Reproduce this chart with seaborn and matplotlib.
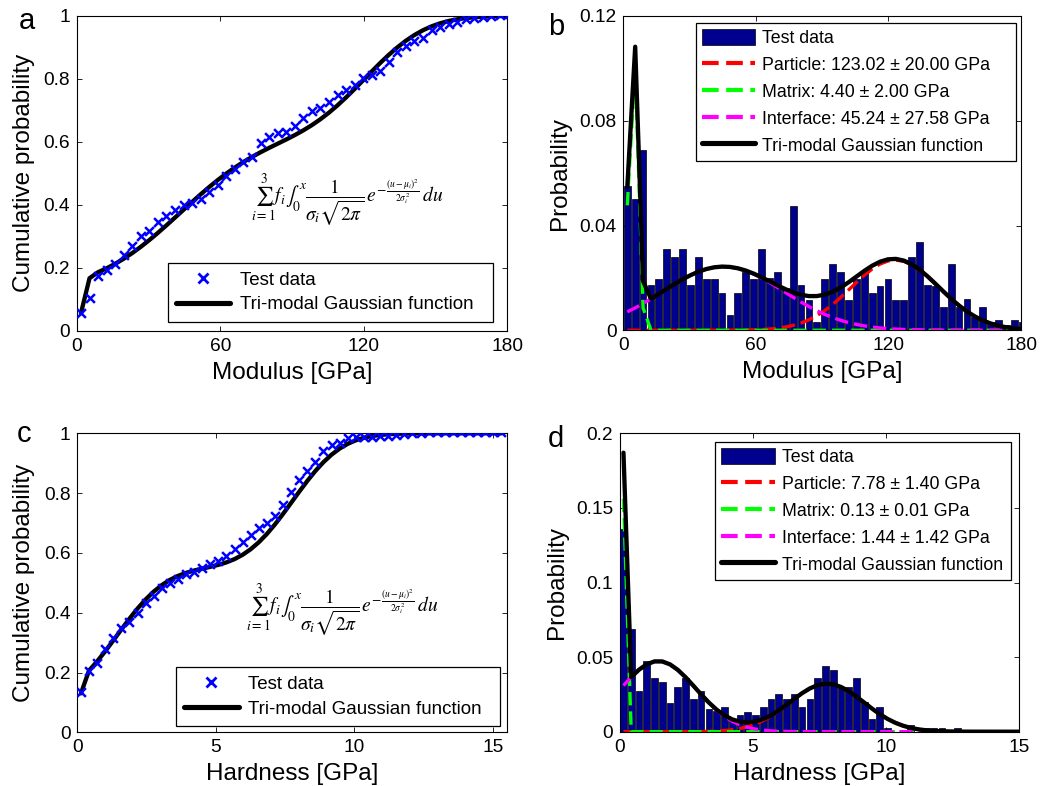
import math
import numpy as np
import pandas as pd
import matplotlib
matplotlib.use("Agg")
import matplotlib.pyplot as plt
from matplotlib.ticker import FuncFormatter
from matplotlib.patches import Patch
from matplotlib.lines import Line2D
import seaborn as sns

# ---- Nanoindentation statistics -------------------------------------------
# Modulus histogram (probability per bin, GPa)
modulus_bin_start = 0.0
modulus_bin_width = 3.575
modulus_prob = [0.055, 0.050, 0.069, 0.0173, 0.0195, 0.0309, 0.0279, 0.0309,
                0.0173, 0.0279, 0.0195, 0.0195, 0.0144, 0.0060, 0.0144, 0.0223,
                0.0195, 0.0309, 0.0200, 0.0223, 0.0160, 0.0474, 0.0172, 0.0116,
                0.0030, 0.0196, 0.0252, 0.0224, 0.0116, 0.0195, 0.0224, 0.0144,
                0.0170, 0.0196, 0.0116, 0.0116, 0.0280, 0.0337, 0.0172, 0.0170,
                0.0089, 0.0252, 0.0089, 0.0120, 0.0050, 0.0090, 0.0030, 0.0040,
                0.0020, 0.0040, 0.0030]

# Hardness histogram (probability per bin, GPa)
hardness_bin_start = -0.016
hardness_bin_width = 0.292
hardness_prob = [0.136, 0.0686, 0.0275, 0.0474, 0.0358, 0.0331, 0.0194, 0.0301,
                 0.0358, 0.0219, 0.0275, 0.0150, 0.0140, 0.0168, 0.0083, 0.0112,
                 0.0134, 0.0112, 0.0168, 0.0219, 0.0253, 0.0219, 0.0253, 0.0168,
                 0.0219, 0.0358, 0.0440, 0.0413, 0.0300, 0.0298, 0.0358, 0.0200,
                 0.0085, 0.0168, 0.0027, 0.0, 0.0, 0.0045, 0.0, 0.0027, 0.0027,
                 0.0027, 0.0, 0.0027, 0.0, 0.0, 0.0, 0.0, 0.0, 0.0, 0.0, 0.0, 0.0]

# Tri-modal Gaussian fits: particle, matrix, interface
phase_names = ["Particle", "Matrix", "Interface"]
modulus_mean = [123.02, 4.40, 45.24]
modulus_std = [20.00, 2.00, 27.58]
modulus_frac = [0.376, 0.157, 0.470]
hardness_mean = [7.78, 0.13, 1.44]
hardness_std = [1.40, 0.01, 1.42]
hardness_frac = [0.387, 0.0134, 0.577]
# volume fractions of the cumulative (CDF) fit of hardness
hardness_cdf_frac = [0.45, 0.10, 0.45]

phase_colors = ["#ff0000", "#00ff00", "#ff00ff"]
bar_color = "#00008f"
marker_color = "#0000ff"


def bin_centers(start, width, n):
    return start + width * (np.arange(n) + 0.5)


def phase_pdf(x, mu, sd, frac, width):
    # probability mass per histogram bin of one Gaussian phase
    return frac * width * np.exp(-0.5 * ((x - mu) / sd) ** 2) / (sd * np.sqrt(2 * np.pi))


_erf = np.vectorize(math.erf)


def phase_cdf(x, mu, sd, frac):
    return frac * 0.5 * (1.0 + _erf((x - mu) / (sd * np.sqrt(2.0))))


mod_x = bin_centers(modulus_bin_start, modulus_bin_width, len(modulus_prob))
hard_x = bin_centers(hardness_bin_start, hardness_bin_width, len(hardness_prob))

mod_phase_pdf = [phase_pdf(mod_x, m, s, f, modulus_bin_width)
                 for m, s, f in zip(modulus_mean, modulus_std, modulus_frac)]
mod_total_pdf = np.sum(mod_phase_pdf, axis=0)
hard_phase_pdf = [phase_pdf(hard_x, m, s, f, hardness_bin_width)
                  for m, s, f in zip(hardness_mean, hardness_std, hardness_frac)]
hard_total_pdf = np.sum(hard_phase_pdf, axis=0)

mod_cum_data = np.cumsum(modulus_prob)
mod_cum_fit = np.cumsum(mod_total_pdf) / mod_total_pdf.sum()
hard_cum_data = np.cumsum(hardness_prob)
hard_cum_fit = np.sum([phase_cdf(hard_x, m, s, f)
                       for m, s, f in zip(hardness_mean, hardness_std, hardness_cdf_frac)],
                      axis=0)

# ---- Styling ----------------------------------------------------------------
sns.set_style("ticks")
plt.rcParams.update({
    "font.family": ["Liberation Sans", "DejaVu Sans"],
    "mathtext.fontset": "stix",
    "axes.linewidth": 0.8,
    "axes.edgecolor": "black",
    "xtick.direction": "in",
    "ytick.direction": "in",
    "xtick.top": True,
    "ytick.right": True,
    "xtick.major.size": 3.5,
    "ytick.major.size": 3.5,
    "xtick.major.width": 0.6,
    "ytick.major.width": 0.6,
    "xtick.labelsize": 13.8,
    "ytick.labelsize": 13.8,
    "xtick.major.pad": 5,
    "ytick.major.pad": 5,
    "axes.labelsize": 17.5,
    "text.color": "black",
    "axes.labelcolor": "black",
    "xtick.color": "black",
    "ytick.color": "black",
})

fig = plt.figure(figsize=(10.45, 7.86), dpi=100)
ax_a = fig.add_axes([0.0734, 0.5793, 0.4120, 0.4004])
ax_b = fig.add_axes([0.5965, 0.5798, 0.3806, 0.3999])
ax_c = fig.add_axes([0.0740, 0.0683, 0.4115, 0.3804])
ax_d = fig.add_axes([0.5933, 0.0691, 0.3818, 0.3796])

fmt = FuncFormatter(lambda v, p: f"{v:g}")
dash = (0, (4.0, 1.8))
fit_lw = 3.1
comp_lw = 2.4
formula = (r"$\sum_{i=1}^{3} f_i \int_0^x \dfrac{1}{\sigma_i\sqrt{2\pi}}\,"
           r"e^{-\frac{(u-\mu_i)^2}{2\sigma_i^2}}\,du$")


def cumulative_panel(ax, x, cum_data, cum_fit, xlim, xticks, xlabel, fx, fy, leg_box):
    sns.lineplot(x=x, y=cum_fit, color="black", linewidth=fit_lw, sort=False,
                 estimator=None, ax=ax, zorder=2)
    sns.scatterplot(x=x, y=cum_data, marker="x", color=marker_color, s=40,
                    linewidth=1.8, ax=ax, zorder=3)
    ax.set_xlim(*xlim)
    ax.set_ylim(0, 1)
    ax.set_xticks(xticks)
    ax.set_yticks([0, 0.2, 0.4, 0.6, 0.8, 1.0])
    ax.xaxis.set_major_formatter(fmt)
    ax.yaxis.set_major_formatter(fmt)
    ax.set_xlabel(xlabel, labelpad=5)
    ax.set_ylabel("Cumulative probability", labelpad=6)
    ax.text(fx, fy, formula, fontsize=14, ha="center", va="center")
    handles = [Line2D([], [], marker="x", color=marker_color, linestyle="none",
                      markersize=7, markeredgewidth=2.0),
               Line2D([], [], color="black", linewidth=fit_lw + 0.6)]
    leg = ax.legend(handles, ["Test data", "Tri-modal Gaussian function"],
                    loc="lower left", bbox_to_anchor=leg_box, mode="expand",
                    borderaxespad=0, fontsize=13.5, frameon=True, fancybox=False,
                    framealpha=1, edgecolor="black", handlelength=2.9,
                    handletextpad=0.5, labelspacing=0.4, borderpad=0.45)
    leg.get_frame().set_linewidth(0.9)
    for s in ax.spines.values():
        s.set_visible(True)


def histogram_panel(ax, x, prob, start, width, phase_pdfs, total_pdf, means, stds,
                    xlim, xticks, ylim, yticks, xlabel, leg_box):
    df = pd.DataFrame({"value": x, "prob": prob})
    sns.histplot(data=df, x="value", weights="prob", binwidth=width,
                 binrange=(start, start + width * len(prob)), stat="count",
                 shrink=0.86, color=bar_color, edgecolor="black", linewidth=0.5,
                 alpha=1, ax=ax, zorder=1)
    for pdf, col in zip(phase_pdfs, phase_colors):
        sns.lineplot(x=x, y=pdf, color=col, linewidth=comp_lw, linestyle=dash,
                     sort=False, estimator=None, ax=ax, zorder=2)
    sns.lineplot(x=x, y=total_pdf, color="black", linewidth=fit_lw, sort=False,
                 estimator=None, ax=ax, zorder=3)
    ax.set_xlim(*xlim)
    ax.set_ylim(*ylim)
    ax.set_xticks(xticks)
    ax.set_yticks(yticks)
    ax.xaxis.set_major_formatter(fmt)
    ax.yaxis.set_major_formatter(fmt)
    ax.set_xlabel(xlabel, labelpad=5)
    ax.set_ylabel("Probability", labelpad=6)
    handles = [Patch(facecolor=bar_color, edgecolor="black", linewidth=0.5)]
    labels = ["Test data"]
    for name, col, m, s in zip(phase_names, phase_colors, means, stds):
        handles.append(Line2D([], [], color=col, linewidth=comp_lw + 0.6, linestyle=dash))
        labels.append(f"{name}: {m:.2f} ± {s:.2f} GPa")
    handles.append(Line2D([], [], color="black", linewidth=fit_lw + 0.6))
    labels.append("Tri-modal Gaussian function")
    leg = ax.legend(handles, labels, loc="upper left", bbox_to_anchor=leg_box,
                    mode="expand", borderaxespad=0, fontsize=12.8, frameon=True,
                    fancybox=False, framealpha=1, edgecolor="black",
                    handlelength=3.0, handleheight=1.05, handletextpad=0.4,
                    labelspacing=0.48, borderpad=0.35)
    leg.get_frame().set_linewidth(0.9)
    for s in ax.spines.values():
        s.set_visible(True)


cumulative_panel(ax_a, mod_x, mod_cum_data, mod_cum_fit, (0, 180), [0, 60, 120, 180],
                 "Modulus [GPa]", 113, 0.415, (0.2113, 0.0286, 0.7547, 0.3))
histogram_panel(ax_b, mod_x, modulus_prob, modulus_bin_start, modulus_bin_width,
                mod_phase_pdf, mod_total_pdf, modulus_mean, modulus_std, (0, 180),
                [0, 60, 120, 180], (0, 0.12), [0, 0.04, 0.08, 0.12],
                "Modulus [GPa]", (0.182, 0.5, 0.8047, 0.4787))
cumulative_panel(ax_c, hard_x, hard_cum_data, hard_cum_fit, (0, 15.53), [0, 5, 10, 15],
                 "Hardness [GPa]", 9.56, 0.409, (0.2288, 0.021, 0.754, 0.3))
histogram_panel(ax_d, hard_x, hardness_prob, hardness_bin_start, hardness_bin_width,
                hard_phase_pdf, hard_total_pdf, hardness_mean, hardness_std, (0, 15),
                [0, 5, 10, 15], (0, 0.2), [0, 0.05, 0.1, 0.15, 0.2],
                "Hardness [GPa]", (0.238, 0.5, 0.742, 0.472))

# panel letters
for letter, x, y in [("a", 0.018, 0.9625), ("b", 0.524, 0.956),
                     ("c", 0.016, 0.4375), ("d", 0.524, 0.431)]:
    fig.text(x, y, letter, fontsize=21, va="baseline", ha="left")

fig.savefig("out.png", dpi=100)
